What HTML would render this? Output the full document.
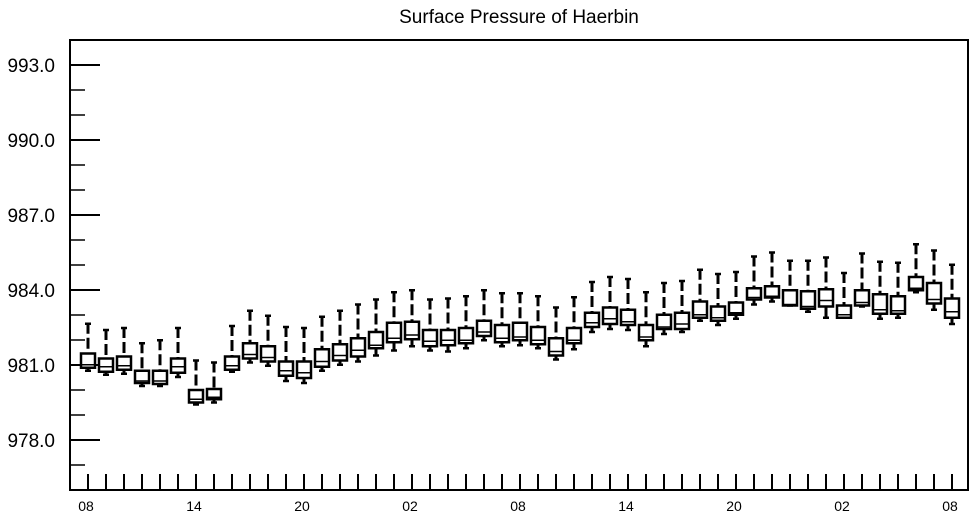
<!DOCTYPE html>
<html><head><meta charset="utf-8"><style>
html,body{margin:0;padding:0;background:#fff;}
svg{display:block;font-family:"Liberation Sans",Arial,sans-serif;}
</style></head><body>
<svg id="chart" width="975" height="518" viewBox="0 0 975 518">
<text x="519" y="23" font-size="19" text-anchor="middle">Surface Pressure of Haerbin</text>
<rect x="70" y="40" width="898" height="450" fill="none" stroke="#000" stroke-width="2"/>
<g id="yaxis"></g>
<g id="xaxis"></g>
<g id="boxes"></g>
</svg>
<script>
const hourLabels = ["08","14","20","02","08","14","20","02","08"];
const yTicks = [978, 981, 984, 987, 990, 993];
const hiW = [982.69,982.44,982.52,981.91,982.03,982.52,981.22,981.14,982.60,983.21,983.01,982.56,982.52,982.97,983.21,983.46,983.66,983.95,984.03,983.66,983.70,983.79,984.03,983.91,983.91,983.79,983.34,983.75,984.36,984.56,984.48,983.95,984.32,984.40,984.85,984.68,984.76,985.38,985.54,985.21,985.21,985.34,984.72,985.50,985.17,985.13,985.87,985.62,985.05];
const q3 = [981.46,981.26,981.34,980.77,980.77,981.26,980.00,980.04,981.34,981.87,981.75,981.14,981.14,981.63,981.83,982.07,982.32,982.69,982.73,982.40,982.40,982.48,982.77,982.60,982.69,982.52,982.07,982.48,983.09,983.30,983.21,982.60,983.01,983.09,983.54,983.34,983.50,984.07,984.15,983.99,983.95,984.03,983.38,983.99,983.83,983.75,984.52,984.28,983.66];
const med = [981.01,980.93,980.97,980.36,980.36,980.93,979.63,979.71,980.97,981.42,981.30,980.77,980.69,981.14,981.38,981.59,981.79,982.07,982.20,981.95,981.99,981.99,982.32,982.07,982.12,981.99,981.54,981.99,982.69,982.85,982.73,982.12,982.52,982.64,983.01,982.89,983.09,983.70,983.75,983.42,983.34,983.58,983.01,983.50,983.21,983.17,984.07,983.62,983.13];
const q1 = [980.89,980.73,980.81,980.28,980.24,980.69,979.50,979.63,980.81,981.26,981.14,980.57,980.48,980.93,981.18,981.34,981.67,981.91,982.03,981.75,981.79,981.87,982.16,981.91,981.99,981.83,981.38,981.87,982.52,982.64,982.60,981.99,982.44,982.44,982.89,982.77,983.01,983.62,983.70,983.38,983.25,983.34,982.89,983.38,983.05,983.05,983.99,983.46,982.89];
const loW = [980.73,980.57,980.61,980.12,980.12,980.48,979.38,979.46,980.69,981.06,980.93,980.32,980.24,980.73,980.97,981.10,981.34,981.54,981.71,981.54,981.50,981.63,981.95,981.71,981.75,981.63,981.18,981.59,982.28,982.40,982.36,981.71,982.20,982.28,982.73,982.56,982.81,983.38,983.50,983.34,983.09,982.85,982.85,983.30,982.81,982.85,983.87,983.17,982.60];

const NS="http://www.w3.org/2000/svg";
const Y0=976, Y1=994, PT=40, PB=490;
function y(v){return PB-(v-Y0)/(Y1-Y0)*(PB-PT);}
function x(i){return 88+i*18;}
function mk(tag,attrs,parent){const e=document.createElementNS(NS,tag);for(const k in attrs)e.setAttribute(k,attrs[k]);parent.appendChild(e);return e;}
const ya=document.getElementById('yaxis'), xa=document.getElementById('xaxis'), bx=document.getElementById('boxes');
for(let v=977;v<=994;v++){
  const major=yTicks.includes(v);
  const t=mk('line',{x1:70,x2:major?100:85,y1:y(v),y2:y(v),stroke:'#000','stroke-width':major?2:1.5},ya);
  
  
}
yTicks.forEach(v=>{
  const t=mk('text',{x:55,y:y(v)+7,'font-size':19,'text-anchor':'end'},ya);
  t.textContent=v.toFixed(1);
  
  
});
for(let i=0;i<hiW.length;i++){
  const t=mk('line',{x1:x(i),x2:x(i),y1:490,y2:474,stroke:'#000','stroke-width':2},xa);
  
  
}
hourLabels.forEach((l,k)=>{
  const t=mk('text',{x:x(k*6)-2,y:511,'font-size':14,'text-anchor':'middle'},xa);
  t.textContent=l;
  
  
});
for(let i=0;i<hiW.length;i++){
  const g=mk('g',{},bx);
  
  
  const cx=x(i), w=7;
  mk('line',{x1:cx,x2:cx,y1:y(hiW[i]),y2:y(q3[i]),stroke:'#000','stroke-width':3,'stroke-dasharray':'11 4'},g);
  mk('line',{x1:cx-3,x2:cx+3,y1:y(hiW[i])+1,y2:y(hiW[i])+1,stroke:'#000','stroke-width':2.5},g);
  mk('line',{x1:cx,x2:cx,y1:y(q1[i]),y2:y(loW[i]),stroke:'#000','stroke-width':3},g);
  mk('line',{x1:cx-3,x2:cx+3,y1:y(loW[i])-1,y2:y(loW[i])-1,stroke:'#000','stroke-width':2.5},g);
  mk('rect',{x:cx-w,y:y(q3[i]),width:2*w,height:Math.max(1,y(q1[i])-y(q3[i])),fill:'#fff',stroke:'#000','stroke-width':2.5},g);
  mk('line',{x1:cx-w,x2:cx+w,y1:y(med[i]),y2:y(med[i]),stroke:'#000','stroke-width':1.5},g);
}
</script>
</body></html>
